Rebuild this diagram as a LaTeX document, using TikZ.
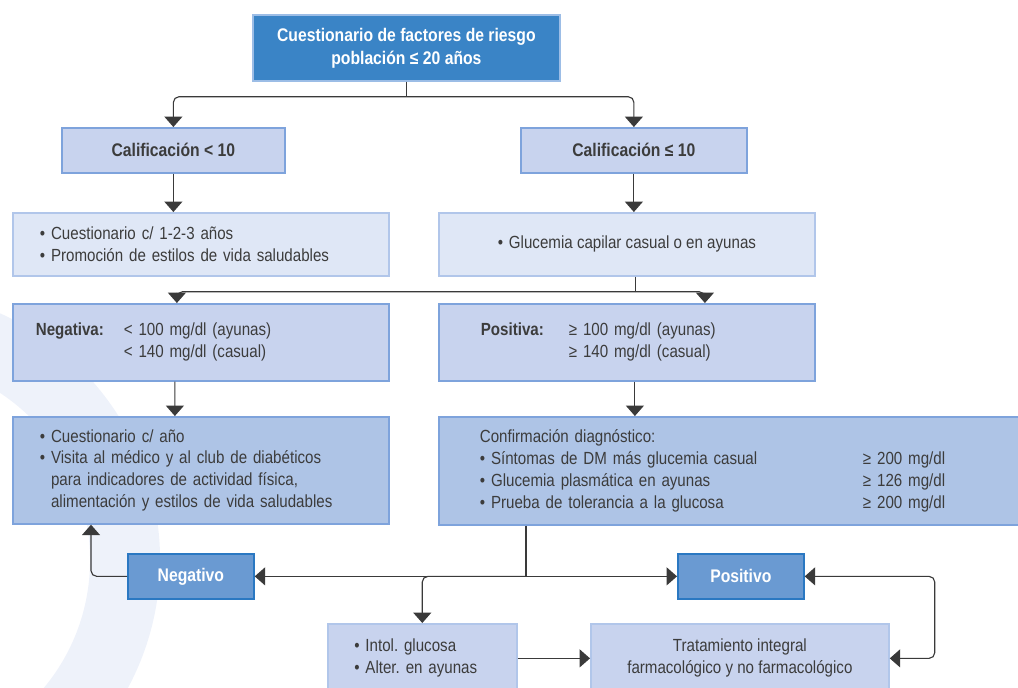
\documentclass[tikz,border=0pt]{standalone}
\usepackage{fontspec}
\setmainfont{Liberation Sans}[FakeStretch=0.86]
\usetikzlibrary{arrows.meta,positioning}

\definecolor{topblue}{HTML}{3A84C6}
\definecolor{topedge}{HTML}{9CBDE6}
\definecolor{midblue}{HTML}{6A9AD2}
\definecolor{midedge}{HTML}{2A78C2}
\definecolor{lavfill}{HTML}{C8D3EE}
\definecolor{lavedge}{HTML}{7EA3DC}
\definecolor{palefill}{HTML}{DFE7F6}
\definecolor{paleedge}{HTML}{B1C6EA}
\definecolor{deepfill}{HTML}{AEC4E6}
\definecolor{txt}{HTML}{3C3C3C}
\definecolor{ln}{HTML}{3A3A3A}
\definecolor{wm}{HTML}{EEF2FA}

\newcommand{\blt}{\makebox[0.28cm][l]{\textbullet}}
\frenchspacing

\begin{document}
\begin{tikzpicture}[x=0.025cm,y=-0.025cm,>={Triangle[width=0.45cm,length=0.26cm]},font=\fontsize{12.5}{15.6}\selectfont,text=txt]
\tikzstyle{box}=[draw,line width=1.2pt,anchor=north west,inner sep=0pt,rectangle]
\tikzstyle{hd}=[box,font=\fontsize{13}{16.3}\selectfont\bfseries]
\tikzstyle{wire}=[draw=ln,line width=0.8pt]
\tikzstyle{arr}=[wire,->,rounded corners=4pt]
\useasboundingbox (0,0) rectangle (1018,687);
% faint watermark
\begin{scope}
\clip (0,0) rectangle (1018,687);
\fill[wm,even odd rule] (-110,560) circle (6.75cm) (-110,560) circle (5cm);
\end{scope}
% boxes
\node[hd,fill=topblue,draw=topedge,text=white,minimum width=7.675cm,minimum height=1.65cm,align=center] (quest) at (252,14) {Cuestionario de factores de riesgo\\población ≤ 20 años};
\node[hd,fill=lavfill,draw=lavedge,minimum width=5.575cm,minimum height=1.125cm] (calL) at (61,127) {Calificación < 10};
\node[hd,fill=lavfill,draw=lavedge,minimum width=5.65cm,minimum height=1.125cm] (calR) at (520,127) {Calificación ≤ 10};
\node[box,fill=palefill,draw=paleedge,text width=8.05cm,inner xsep=0.675cm,minimum height=1.575cm,align=left] (cada) at (12,212) {\blt Cuestionario c/ 1-2-3 años\\\blt Promoción de estilos de vida saludables};
\node[box,fill=palefill,draw=paleedge,minimum width=9.4cm,minimum height=1.575cm] (gluc) at (438,212) {\blt Glucemia capilar casual o en ayunas};
\node[box,fill=lavfill,draw=lavedge,text width=8.25cm,inner xsep=0.575cm,minimum height=1.925cm,align=left] (neg) at (12,303) {\makebox[2.2cm][l]{\bfseries Negativa:}< 100 mg/dl (ayunas)\\\hspace*{2.2cm}< 140 mg/dl (casual)};
\node[box,fill=lavfill,draw=lavedge,text width=7.3cm,inner xsep=1.05cm,minimum height=1.925cm,align=left] (pos) at (438,303) {\makebox[2.2cm][l]{\bfseries Positiva:}≥ 100 mg/dl (ayunas)\\\hspace*{2.2cm}≥ 140 mg/dl (casual)};
\node[box,fill=deepfill,draw=lavedge,text width=8.05cm,inner xsep=0.675cm,minimum height=2.675cm,align=left] (anual) at (12,416) {\blt Cuestionario c/ año\\\blt Visita al médico y al club de diabéticos\\\hspace*{0.28cm}para indicadores de actividad física,\\\hspace*{0.28cm}alimentación y estilos de vida saludables};
\node[box,fill=deepfill,draw=lavedge,text width=12.75cm,inner xsep=1.025cm,minimum height=2.7cm,align=left] (conf) at (438,416) {Confirmación diagnóstico:\\\makebox[9.575cm][l]{\blt Síntomas de DM más glucemia casual}≥ 200 mg/dl\\\makebox[9.575cm][l]{\blt Glucemia plasmática en ayunas}≥ 126 mg/dl\\\makebox[9.575cm][l]{\blt Prueba de tolerancia a la glucosa}≥ 200 mg/dl};
\node[hd,fill=midblue,draw=midedge,text=white,minimum width=3.15cm,minimum height=1.125cm] (negativo) at (127,553) {Negativo};
\node[hd,fill=midblue,draw=midedge,text=white,minimum width=3.15cm,minimum height=1.125cm] (positivo) at (677,553) {Positivo};
\node[box,fill=lavfill,draw=paleedge,text width=3.4cm,inner xsep=0.66cm,minimum height=1.725cm,align=left] (intol) at (327,623) {\blt Intol. glucosa\\\blt Alter. en ayunas};
\node[box,fill=lavfill,draw=paleedge,minimum width=7.45cm,minimum height=1.725cm,align=center] (trat) at (590,623) {Tratamiento integral\\farmacológico y no farmacológico};
% connectors
\path (quest.south) ++(0,15) coordinate (s1);
\draw[wire] (quest.south) -- (s1);
\draw[arr] (s1) -| (calL.north);
\draw[arr] (s1) -| (calR.north);
\draw[arr] (calL.south) -- (calL.south |- cada.north);
\draw[arr] (calR.south) -- (calR.south |- gluc.north);
\path (gluc.south) ++(9,15) coordinate (s2);
\draw[wire] (s2 |- gluc.south) -- (s2);
\draw[arr] (s2) -| ([xshift=-0.6cm]neg.north);
\draw[arr] (s2) -| ([xshift=1.95cm]pos.north);
\draw[arr] ([xshift=-0.65cm]neg.south) -- ([xshift=-0.65cm]anual.north);
\draw[arr] ([xshift=0.2cm]pos.south) -- ([xshift=0.2cm]conf.north west -| pos.south);
\coordinate (s3) at ([xshift=2.2cm]conf.south west |- negativo.east);
\draw[wire] ([xshift=2.2cm]conf.south west) -- (s3);
\draw[arr] (s3) -- (negativo.east);
\draw[arr] (s3) -- (positivo.west);
\draw[arr] (s3) -| (intol.north);
\draw[arr] (negativo.west) -| ([xshift=1.975cm]anual.south west);
\draw[arr] (intol.east |- trat.west) -- (trat.west);
\draw[arr,<->] (positivo.east) -- ++(130,0) |- (trat.east);
\end{tikzpicture}
\end{document}
